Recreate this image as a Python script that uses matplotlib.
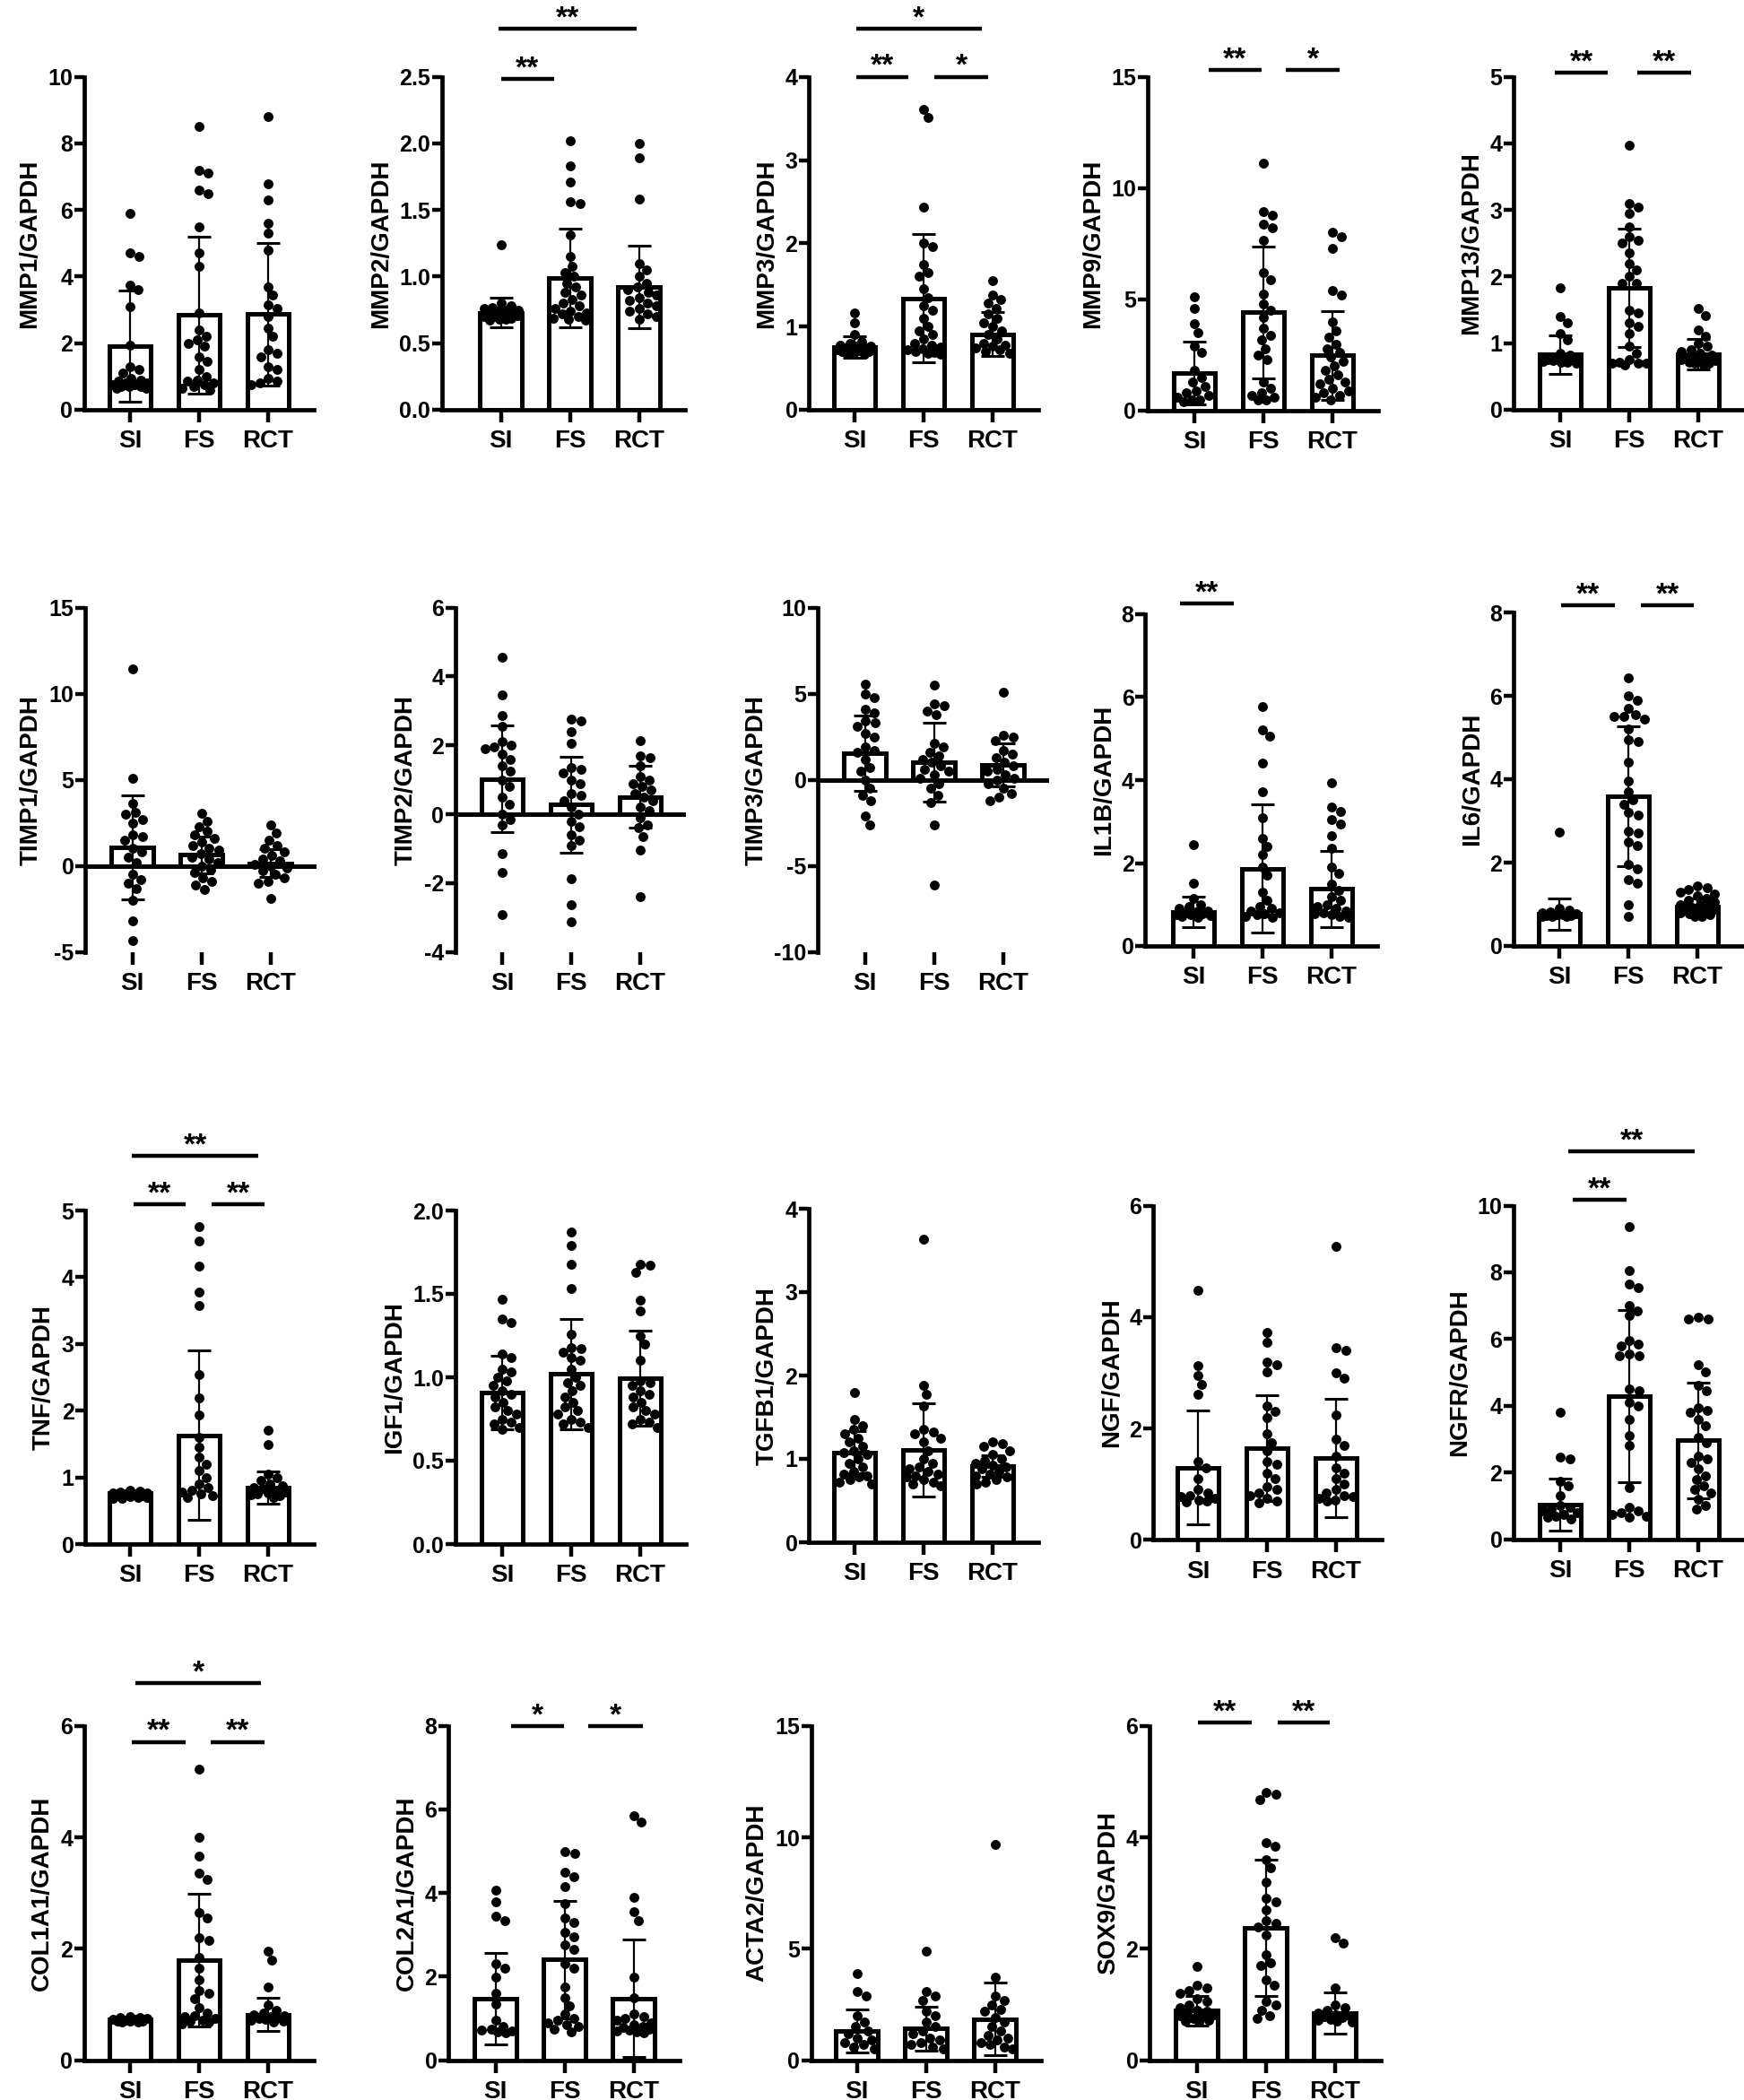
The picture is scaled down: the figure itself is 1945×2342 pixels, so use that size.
# -*- coding: utf-8 -*-
"""
Expresion relativa de genes (x/GAPDH) en tres grupos: SI, FS y RCT.
Barras de media con DE y los puntos individuales de cada muestra.
"""

import numpy as np
import matplotlib
matplotlib.use('Agg')
import matplotlib.pyplot as plt

plt.rcParams['font.family'] = ['Liberation Sans', 'DejaVu Sans']
plt.rcParams['font.weight'] = 'bold'

grupos = ['SI', 'FS', 'RCT']

# ---------------- datos ----------------
mmp1_si = [5.9, 4.7, 4.6, 3.75, 3.6, 3.1, 1.95, 1.3, 1.2, 1.1, 0.95, 0.9, 0.85, 0.8, 0.8, 0.75, 0.75, 0.7, 0.7, 0.7, 0.65, 0.65]
mmp1_fs = [8.5, 7.2, 7.1, 6.6, 6.5, 5.5, 4.7, 4.3, 2.9, 2.4, 2.2, 2.1, 2.0, 1.9, 1.6, 1.45, 1.2, 1.0, 0.9, 0.85, 0.8, 0.75, 0.7, 0.65, 0.6]
mmp1_rct = [8.8, 6.8, 6.3, 5.6, 5.3, 4.8, 3.7, 3.45, 3.15, 3.05, 2.8, 2.45, 2.2, 1.8, 1.7, 1.6, 1.3, 1.2, 0.95, 0.85, 0.8, 0.75]
mmp1_media = [1.90, 2.85, 2.87]
mmp1_de = [1.67, 2.36, 2.14]

mmp2_si = [1.24, 0.8, 0.78, 0.77, 0.76, 0.75, 0.75, 0.74, 0.73, 0.73, 0.72, 0.72, 0.71, 0.70, 0.70, 0.69, 0.68, 0.68, 0.67]
mmp2_fs = [2.02, 1.83, 1.71, 1.56, 1.55, 1.31, 1.15, 1.08, 1.03, 1.0, 0.95, 0.92, 0.88, 0.86, 0.83, 0.80, 0.78, 0.76, 0.74, 0.73, 0.72, 0.70, 0.69, 0.68, 0.67]
mmp2_rct = [2.0, 1.89, 1.58, 1.1, 1.05, 1.0, 0.95, 0.92, 0.9, 0.88, 0.86, 0.84, 0.82, 0.8, 0.78, 0.76, 0.74, 0.72, 0.7, 0.68]
mmp2_media = [0.73, 0.99, 0.92]
mmp2_de = [0.11, 0.37, 0.31]

mmp3_si = [1.16, 1.04, 0.9, 0.82, 0.8, 0.78, 0.77, 0.76, 0.75, 0.74, 0.73, 0.72, 0.71, 0.7, 0.7, 0.69, 0.68, 0.67]
mmp3_fs = [3.61, 3.51, 2.44, 2.0, 1.96, 1.75, 1.65, 1.6, 1.45, 1.35, 1.25, 1.2, 1.1, 1.0, 0.95, 0.9, 0.85, 0.8, 0.78, 0.75, 0.73, 0.72, 0.7, 0.69, 0.68, 0.67]
mmp3_rct = [1.55, 1.38, 1.32, 1.28, 1.22, 1.15, 1.1, 1.05, 1.0, 0.95, 0.9, 0.85, 0.8, 0.78, 0.76, 0.74, 0.72, 0.7, 0.68]
mmp3_media = [0.75, 1.34, 0.91]
mmp3_de = [0.13, 0.77, 0.26]

mmp9_si = [5.1, 4.6, 3.9, 3.5, 2.9, 2.6, 1.8, 1.5, 1.3, 1.1, 0.9, 0.8, 0.7, 0.6, 0.5, 0.5, 0.4]
mmp9_fs = [11.1, 8.95, 8.8, 8.4, 8.2, 7.65, 6.2, 5.9, 5.25, 4.8, 4.5, 4.2, 3.7, 3.4, 3.2, 2.8, 2.5, 2.3, 1.3, 1.0, 0.8, 0.7, 0.6, 0.5, 0.5]
mmp9_rct = [8.0, 7.8, 7.3, 5.4, 5.2, 4.0, 3.6, 3.3, 3.0, 2.8, 2.6, 2.4, 2.2, 2.0, 1.8, 1.6, 1.4, 1.3, 1.2, 1.0, 0.9, 0.8, 0.7, 0.6, 0.5]
mmp9_media = [1.70, 4.43, 2.48]
mmp9_de = [1.40, 2.96, 1.98]

mmp13_si = [1.83, 1.4, 1.3, 1.15, 1.05, 0.85, 0.82, 0.8, 0.8, 0.78, 0.77, 0.76, 0.75, 0.75, 0.74, 0.73, 0.72, 0.72, 0.7]
mmp13_fs = [3.97, 3.1, 3.05, 2.95, 2.75, 2.6, 2.55, 2.5, 2.35, 2.2, 2.1, 2.0, 1.9, 1.9, 1.5, 1.45, 1.3, 1.25, 1.15, 0.95, 0.85, 0.75, 0.72, 0.7, 0.7, 0.7, 0.68]
mmp13_rct = [1.52, 1.42, 1.2, 1.1, 1.0, 0.95, 0.9, 0.88, 0.85, 0.82, 0.8, 0.78, 0.76, 0.75, 0.74, 0.73, 0.72, 0.7, 0.7, 0.68]
mmp13_media = [0.83, 1.83, 0.83]
mmp13_de = [0.29, 0.89, 0.23]

timp1_si = [11.45, 5.07, 3.63, 3.1, 3.0, 2.7, 2.5, 1.8, 1.7, 1.5, 1.0, 0.8, 0.5, 0.2, -0.5, -0.8, -1.0, -1.3, -2.0, -3.18, -4.36]
timp1_fs = [3.07, 2.6, 2.3, 2.0, 1.8, 1.6, 1.4, 1.2, 1.0, 0.9, 0.7, 0.5, 0.4, 0.2, 0.0, -0.2, -0.4, -0.7, -0.9, -1.1, -1.35]
timp1_rct = [2.38, 1.9, 1.5, 1.2, 1.0, 0.8, 0.6, 0.4, 0.3, 0.1, 0.0, -0.1, -0.3, -0.5, -0.7, -0.9, -1.0, -1.87]
timp1_media = [1.08, 0.64, 0.15]
timp1_de = [3.03, 1.05, 0.80]

timp2_si = [4.55, 3.46, 2.86, 2.55, 2.1, 2.0, 1.95, 1.9, 1.75, 1.6, 1.4, 1.25, 1.0, 0.8, 0.5, 0.3, 0.0, -0.15, -0.3, -1.14, -1.7, -2.92]
timp2_fs = [2.75, 2.7, 2.4, 2.05, 1.35, 1.3, 1.2, 1.0, 0.9, 0.6, 0.55, 0.4, 0.2, 0.0, -0.2, -0.35, -0.6, -0.75, -0.9, -1.88, -2.64, -3.13]
timp2_rct = [2.13, 1.7, 1.65, 1.4, 1.1, 1.0, 0.9, 0.8, 0.7, 0.6, 0.5, 0.4, 0.2, 0.1, -0.1, -0.3, -0.4, -0.65, -1.05, -2.4]
timp2_media = [1.03, 0.28, 0.51]
timp2_de = [1.56, 1.40, 0.91]

timp3_si = [5.57, 5.0, 4.8, 4.1, 3.9, 3.4, 3.3, 3.1, 2.7, 2.5, 1.9, 1.7, 1.6, 1.2, 0.7, 0.5, 0.0, -0.5, -0.9, -1.2, -2.1, -2.6]
timp3_fs = [5.5, 4.4, 4.3, 4.0, 3.8, 2.1, 1.9, 1.6, 1.4, 1.2, 1.0, 0.8, 0.6, 0.5, 0.3, 0.1, -0.2, -0.5, -0.9, -1.3, -2.6, -6.09]
timp3_rct = [5.1, 2.6, 2.5, 2.3, 1.7, 1.5, 1.3, 1.0, 0.8, 0.6, 0.5, 0.3, 0.1, 0.0, -0.2, -0.5, -0.8, -1.0, -1.2]
timp3_media = [1.55, 1.02, 0.85]
timp3_de = [2.17, 2.29, 1.25]

il1b_si = [2.45, 1.51, 1.15, 1.0, 0.95, 0.9, 0.85, 0.82, 0.8, 0.78, 0.76, 0.75, 0.74, 0.72, 0.7]
il1b_fs = [5.77, 5.2, 5.05, 4.4, 3.71, 3.1, 2.6, 2.4, 2.2, 1.9, 1.7, 1.3, 1.1, 0.95, 0.9, 0.85, 0.8, 0.78, 0.75, 0.72, 0.7]
il1b_rct = [3.93, 3.35, 3.25, 3.05, 2.95, 2.65, 2.35, 1.9, 1.75, 1.5, 1.35, 1.2, 1.1, 1.0, 0.95, 0.9, 0.85, 0.8, 0.78, 0.75, 0.72, 0.7]
il1b_media = [0.83, 1.87, 1.38]
il1b_de = [0.37, 1.54, 0.92]

il6_si = [2.73, 0.9, 0.85, 0.82, 0.8, 0.78, 0.76, 0.75, 0.74, 0.73, 0.72, 0.7, 0.7]
il6_fs = [6.44, 6.0, 5.9, 5.7, 5.55, 5.5, 5.5, 5.45, 5.2, 4.95, 4.9, 4.4, 3.95, 3.7, 3.5, 3.4, 3.2, 3.15, 2.75, 2.7, 2.5, 2.4, 1.95, 1.85, 1.6, 1.5, 1.0, 0.7]
il6_rct = [1.45, 1.4, 1.35, 1.3, 1.25, 1.2, 1.15, 1.1, 1.05, 1.0, 0.98, 0.95, 0.92, 0.9, 0.88, 0.85, 0.82, 0.8, 0.78, 0.75, 0.72, 0.7]
il6_media = [0.77, 3.59, 0.95]
il6_de = [0.38, 1.68, 0.20]

tnf_si = [0.8, 0.79, 0.78, 0.77, 0.76, 0.75, 0.74, 0.73, 0.72, 0.71, 0.7, 0.7, 0.69, 0.68]
tnf_fs = [4.76, 4.54, 4.16, 3.78, 3.58, 2.54, 2.19, 1.93, 1.6, 1.45, 1.3, 1.2, 1.1, 1.0, 0.9, 0.85, 0.8, 0.78, 0.75, 0.72, 0.7]
tnf_rct = [1.71, 1.49, 1.05, 1.0, 0.95, 0.9, 0.88, 0.85, 0.83, 0.8, 0.78, 0.76, 0.75, 0.74, 0.72, 0.7]
tnf_media = [0.76, 1.63, 0.85]
tnf_de = [0.04, 1.27, 0.24]

igf1_si = [1.47, 1.35, 1.33, 1.14, 1.12, 1.05, 1.03, 1.0, 0.98, 0.95, 0.92, 0.9, 0.88, 0.85, 0.82, 0.8, 0.78, 0.75, 0.73, 0.72, 0.7, 0.69]
igf1_fs = [1.87, 1.79, 1.68, 1.53, 1.26, 1.18, 1.17, 1.15, 1.12, 1.1, 1.05, 1.0, 0.97, 0.95, 0.92, 0.88, 0.85, 0.82, 0.8, 0.78, 0.75, 0.73, 0.72, 0.7]
igf1_rct = [1.68, 1.67, 1.63, 1.46, 1.4, 1.25, 1.2, 1.1, 0.98, 0.97, 0.95, 0.92, 0.9, 0.88, 0.85, 0.82, 0.8, 0.78, 0.75, 0.73, 0.72, 0.7]
igf1_media = [0.91, 1.02, 0.995]
igf1_de = [0.22, 0.33, 0.285]

tgfb1_si = [1.8, 1.47, 1.4, 1.35, 1.3, 1.25, 1.2, 1.15, 1.1, 1.08, 1.05, 1.0, 0.95, 0.9, 0.85, 0.82, 0.8, 0.78, 0.75, 0.72, 0.7]
tgfb1_fs = [3.63, 1.88, 1.77, 1.63, 1.35, 1.32, 1.3, 1.25, 1.2, 1.1, 1.0, 0.95, 0.9, 0.88, 0.85, 0.82, 0.8, 0.78, 0.75, 0.72, 0.7, 0.68]
tgfb1_rct = [1.2, 1.18, 1.15, 1.1, 1.05, 1.0, 0.98, 0.95, 0.92, 0.9, 0.88, 0.85, 0.82, 0.8, 0.78, 0.75, 0.72, 0.7]
tgfb1_media = [1.08, 1.11, 0.91]
tgfb1_de = [0.25, 0.56, 0.13]

ngf_si = [4.48, 3.13, 2.95, 2.79, 2.62, 1.4, 1.3, 1.1, 0.9, 0.85, 0.8, 0.78, 0.75, 0.72, 0.7, 0.68]
ngf_fs = [3.72, 3.55, 3.2, 3.15, 3.02, 2.4, 2.3, 2.2, 1.9, 1.75, 1.6, 1.4, 1.35, 1.2, 1.1, 0.95, 0.9, 0.85, 0.8, 0.75, 0.7, 0.66]
ngf_rct = [5.27, 3.45, 3.4, 3.0, 2.9, 2.25, 1.8, 1.7, 1.5, 1.3, 1.2, 1.1, 1.0, 0.9, 0.85, 0.8, 0.78, 0.75, 0.72, 0.7]
ngf_media = [1.30, 1.64, 1.47]
ngf_de = [1.02, 0.95, 1.07]

ngfr_si = [3.81, 2.45, 2.4, 1.75, 1.6, 1.3, 1.0, 0.95, 0.9, 0.85, 0.8, 0.75, 0.7, 0.65, 0.6]
ngfr_fs = [9.38, 8.06, 7.65, 7.55, 7.0, 6.85, 6.7, 5.97, 5.85, 5.8, 5.55, 5.5, 5.5, 4.5, 4.45, 4.1, 4.0, 3.6, 3.11, 2.8, 1.55, 0.95, 0.85, 0.8, 0.75, 0.7, 0.65]
ngfr_rct = [6.65, 6.6, 6.6, 5.23, 5.02, 4.6, 4.45, 3.95, 3.85, 3.8, 3.6, 3.4, 3.05, 2.9, 2.5, 2.4, 2.3, 2.1, 1.9, 1.8, 1.6, 1.5, 1.4, 1.2, 1.0, 0.9]
ngfr_media = [1.04, 4.28, 2.96]
ngfr_de = [0.77, 2.58, 1.73]

col1a1_si = [0.78, 0.77, 0.76, 0.75, 0.74, 0.73, 0.72, 0.71, 0.7, 0.7, 0.69, 0.68]
col1a1_fs = [5.23, 4.0, 3.66, 3.35, 3.25, 2.65, 2.55, 2.2, 2.15, 1.85, 1.65, 1.45, 1.25, 1.2, 1.1, 0.95, 0.85, 0.8, 0.78, 0.75, 0.72, 0.7, 0.68, 0.65]
col1a1_rct = [1.95, 1.79, 1.31, 1.0, 0.9, 0.85, 0.82, 0.8, 0.78, 0.76, 0.75, 0.74, 0.72, 0.7, 0.68]
col1a1_media = [0.74, 1.79, 0.82]
col1a1_de = [0.03, 1.19, 0.30]

col2a1_si = [4.06, 3.8, 3.45, 3.35, 2.3, 2.2, 1.98, 1.6, 1.35, 0.95, 0.8, 0.75, 0.72, 0.7, 0.68, 0.65]
col2a1_fs = [5.0, 4.95, 4.5, 4.4, 4.15, 3.75, 3.4, 3.3, 3.05, 2.95, 2.75, 2.65, 2.3, 2.2, 1.75, 1.5, 1.3, 1.1, 1.0, 0.95, 0.9, 0.85, 0.8, 0.75, 0.67]
col2a1_rct = [5.85, 5.7, 3.9, 3.55, 3.35, 1.98, 1.5, 1.1, 1.05, 1.0, 0.95, 0.9, 0.85, 0.8, 0.78, 0.75, 0.72, 0.7, 0.68, 0.65]
col2a1_media = [1.48, 2.41, 1.48]
col2a1_de = [1.09, 1.40, 1.40]

acta2_si = [3.87, 3.1, 2.9, 2.0, 1.7, 1.5, 1.3, 1.2, 1.0, 0.9, 0.8, 0.7, 0.6, 0.5]
acta2_fs = [4.88, 3.1, 2.9, 2.7, 2.2, 2.0, 1.7, 1.5, 1.3, 1.2, 1.0, 0.9, 0.8, 0.7, 0.6, 0.5]
acta2_rct = [9.68, 3.71, 2.9, 2.7, 2.5, 2.3, 2.2, 1.9, 1.7, 1.5, 1.3, 1.1, 1.0, 0.9, 0.8, 0.7, 0.6, 0.5]
acta2_media = [1.32, 1.42, 1.85]
acta2_de = [0.96, 1.00, 1.62]

sox9_si = [1.68, 1.35, 1.3, 1.25, 1.2, 1.1, 1.05, 1.0, 0.95, 0.9, 0.88, 0.85, 0.82, 0.8, 0.78, 0.75, 0.72, 0.7, 0.68]
sox9_fs = [4.8, 4.78, 4.67, 3.9, 3.84, 3.6, 3.45, 3.2, 2.9, 2.85, 2.7, 2.5, 2.45, 2.4, 2.25, 1.9, 1.75, 1.7, 1.45, 1.35, 1.05, 1.0, 0.9, 0.8, 0.75]
sox9_rct = [2.2, 2.1, 1.3, 1.0, 0.95, 0.9, 0.85, 0.82, 0.8, 0.78, 0.76, 0.74, 0.72, 0.7, 0.68]
sox9_media = [0.89, 2.38, 0.84]
sox9_de = [0.27, 1.22, 0.37]

# (etiqueta, SI, FS, RCT, media, DE, marcas del eje y, decimales)
paneles = [
    ('MMP1/GAPDH', mmp1_si, mmp1_fs, mmp1_rct, mmp1_media, mmp1_de, [0, 2, 4, 6, 8, 10], 0),
    ('MMP2/GAPDH', mmp2_si, mmp2_fs, mmp2_rct, mmp2_media, mmp2_de, [0, 0.5, 1.0, 1.5, 2.0, 2.5], 1),
    ('MMP3/GAPDH', mmp3_si, mmp3_fs, mmp3_rct, mmp3_media, mmp3_de, [0, 1, 2, 3, 4], 0),
    ('MMP9/GAPDH', mmp9_si, mmp9_fs, mmp9_rct, mmp9_media, mmp9_de, [0, 5, 10, 15], 0),
    ('MMP13/GAPDH', mmp13_si, mmp13_fs, mmp13_rct, mmp13_media, mmp13_de, [0, 1, 2, 3, 4, 5], 0),
    ('TIMP1/GAPDH', timp1_si, timp1_fs, timp1_rct, timp1_media, timp1_de, [-5, 0, 5, 10, 15], 0),
    ('TIMP2/GAPDH', timp2_si, timp2_fs, timp2_rct, timp2_media, timp2_de, [-4, -2, 0, 2, 4, 6], 0),
    ('TIMP3/GAPDH', timp3_si, timp3_fs, timp3_rct, timp3_media, timp3_de, [-10, -5, 0, 5, 10], 0),
    ('IL1B/GAPDH', il1b_si, il1b_fs, il1b_rct, il1b_media, il1b_de, [0, 2, 4, 6, 8], 0),
    ('IL6/GAPDH', il6_si, il6_fs, il6_rct, il6_media, il6_de, [0, 2, 4, 6, 8], 0),
    ('TNF/GAPDH', tnf_si, tnf_fs, tnf_rct, tnf_media, tnf_de, [0, 1, 2, 3, 4, 5], 0),
    ('IGF1/GAPDH', igf1_si, igf1_fs, igf1_rct, igf1_media, igf1_de, [0, 0.5, 1.0, 1.5, 2.0], 1),
    ('TGFB1/GAPDH', tgfb1_si, tgfb1_fs, tgfb1_rct, tgfb1_media, tgfb1_de, [0, 1, 2, 3, 4], 0),
    ('NGF/GAPDH', ngf_si, ngf_fs, ngf_rct, ngf_media, ngf_de, [0, 2, 4, 6], 0),
    ('NGFR/GAPDH', ngfr_si, ngfr_fs, ngfr_rct, ngfr_media, ngfr_de, [0, 2, 4, 6, 8, 10], 0),
    ('COL1A1/GAPDH', col1a1_si, col1a1_fs, col1a1_rct, col1a1_media, col1a1_de, [0, 2, 4, 6], 0),
    ('COL2A1/GAPDH', col2a1_si, col2a1_fs, col2a1_rct, col2a1_media, col2a1_de, [0, 2, 4, 6, 8], 0),
    ('ACTA2/GAPDH', acta2_si, acta2_fs, acta2_rct, acta2_media, acta2_de, [0, 5, 10, 15], 0),
    ('SOX9/GAPDH', sox9_si, sox9_fs, sox9_rct, sox9_media, sox9_de, [0, 2, 4, 6], 0),
]

# comparaciones significativas: (panel, x inicial, x final, altura de la linea, texto)
comparaciones = [
    ('MMP2/GAPDH', 0.0, 0.77, 2.485, '**'),
    ('MMP2/GAPDH', -0.03, 1.97, 2.86, '**'),
    ('MMP3/GAPDH', 0.03, 0.78, 4.0, '**'),
    ('MMP3/GAPDH', 1.16, 1.93, 4.0, '*'),
    ('MMP3/GAPDH', 0.02, 1.84, 4.58, '*'),
    ('MMP9/GAPDH', 0.21, 0.97, 15.31, '**'),
    ('MMP9/GAPDH', 1.33, 2.11, 15.31, '*'),
    ('MMP13/GAPDH', -0.08, 0.69, 5.06, '**'),
    ('MMP13/GAPDH', 1.12, 1.90, 5.06, '**'),
    ('IL1B/GAPDH', -0.20, 0.58, 8.26, '**'),
    ('IL6/GAPDH', 0.03, 0.81, 8.17, '**'),
    ('IL6/GAPDH', 1.18, 1.95, 8.17, '**'),
    ('TNF/GAPDH', 0.05, 0.81, 5.09, '**'),
    ('TNF/GAPDH', 1.18, 1.95, 5.09, '**'),
    ('TNF/GAPDH', 0.03, 1.86, 5.82, '**'),
    ('NGFR/GAPDH', 0.18, 0.96, 10.18, '**'),
    ('NGFR/GAPDH', 0.12, 1.95, 11.63, '**'),
    ('COL1A1/GAPDH', 0.03, 0.80, 5.71, '**'),
    ('COL1A1/GAPDH', 1.17, 1.95, 5.71, '**'),
    ('COL1A1/GAPDH', 0.08, 1.90, 6.76, '*'),
    ('COL2A1/GAPDH', 0.23, 0.99, 7.99, '*'),
    ('COL2A1/GAPDH', 1.35, 2.13, 7.99, '*'),
    ('SOX9/GAPDH', 0.02, 0.80, 6.06, '**'),
    ('SOX9/GAPDH', 1.17, 1.93, 6.06, '**'),
]

# ---------------- disposicion (pixeles de la figura) ----------------
ANCHO, ALTO = 1945, 2342
PASO = 77.0        # pixeles entre centros de barras
MARGEN_DER = 51.0  # pixeles del eje x despues de la ultima barra

# (eje y, centro de SI, borde superior, borde inferior)
posiciones = {
    'MMP1/GAPDH': (93.5, 145, 85.7, 457),
    'MMP2/GAPDH': (492.5, 558.5, 85.7, 457),
    'MMP3/GAPDH': (902, 953, 85.7, 457),
    'MMP9/GAPDH': (1279.5, 1332, 85.7, 458),
    'MMP13/GAPDH': (1688, 1740, 85.7, 457),
    'TIMP1/GAPDH': (95, 147.5, 677.7, 1061.7),
    'TIMP2/GAPDH': (507.5, 560, 677.7, 1061.7),
    'TIMP3/GAPDH': (912, 964.5, 677.7, 1061.7),
    'IL1B/GAPDH': (1277, 1331, 685, 1055),
    'IL6/GAPDH': (1688, 1739, 683, 1055),
    'TNF/GAPDH': (95, 145, 1350, 1722),
    'IGF1/GAPDH': (507.5, 560, 1350, 1722),
    'TGFB1/GAPDH': (902, 953, 1348, 1720),
    'NGF/GAPDH': (1286, 1336, 1344.6, 1717.3),
    'NGFR/GAPDH': (1688, 1740, 1344.6, 1716.6),
    'COL1A1/GAPDH': (93.5, 145, 1924.7, 2297.7),
    'COL2A1/GAPDH': (500, 552.5, 1924.7, 2297.7),
    'ACTA2/GAPDH': (904.5, 955.5, 1924.7, 2297.7),
    'SOX9/GAPDH': (1282, 1334.5, 1924.7, 2297.7),
}


def enjambre(valores: np.ndarray, px_y: float, diametro: float = 10.5, limite: float = 19.0) -> np.ndarray:
    """
    Calcula desplazamientos horizontales (en pixeles) para que los puntos
    de un grupo no se encimen, al estilo de un grafico de dispersion.
    """
    orden = np.argsort(valores)[::-1]
    candidatos = [0.0]
    for k in np.arange(1.0, limite + 0.1, 1.0):
        candidatos += [k, -k]
    colocados = []
    desplaz = np.zeros(len(valores))
    for i in orden:
        y = valores[i] * px_y
        mejor, mejor_dist = 0.0, -1.0
        for c in candidatos:
            d = min([np.hypot(c - cx, y - cy) for cx, cy in colocados], default=np.inf)
            if d >= diametro:
                mejor = c
                break
            if d > mejor_dist:
                mejor, mejor_dist = c, d
        desplaz[i] = mejor
        colocados.append((mejor, y))
    return desplaz


fig = plt.figure(figsize=(ANCHO / 100, ALTO / 100), dpi=100)
ejes = {}

for nombre, si, fs, rct, media, de, marcas, dec in paneles:
    axl, xsi, arriba, abajo = posiciones[nombre]
    xmin = -(xsi - axl) / PASO
    xmax = 2 + MARGEN_DER / PASO
    ancho_px = (xmax - xmin) * PASO
    ax = fig.add_axes([axl / ANCHO, 1 - abajo / ALTO, ancho_px / ANCHO, (abajo - arriba) / ALTO])
    ejes[nombre] = ax

    ymin, ymax = marcas[0], marcas[-1]
    ax.set_xlim(xmin, xmax)
    ax.set_ylim(ymin, ymax)
    px_y = (abajo - arriba) / (ymax - ymin)

    for i, (valores, m, s) in enumerate(zip([si, fs, rct], media, de)):
        ax.bar(i, m, width=0.6, color='white', edgecolor='black', linewidth=3.6, zorder=2)
        v = np.array(valores, dtype=float)
        dx = enjambre(v, px_y) / PASO
        ax.scatter(i + dx, v, s=62, color='black', linewidths=0, zorder=3)
        ax.errorbar(i, m, yerr=s, color='black', capsize=9.5, elinewidth=1.6,
                    capthick=2.2, zorder=4)

    # ejes al estilo GraphPad
    ax.spines[['top', 'right']].set_visible(False)
    ax.spines['left'].set_linewidth(3.4)
    ax.spines['bottom'].set_linewidth(3.4)
    if ymin < 0:
        ax.spines['bottom'].set_visible(False)
        ax.axhline(0, color='black', linewidth=3.6, zorder=2.5)

    ax.set_xticks([0, 1, 2])
    ax.set_xticklabels(grupos, fontsize=20, fontweight='bold')
    ax.set_yticks(marcas)
    if dec:
        ax.set_yticklabels([f'{t:.1f}' for t in marcas], fontsize=18, fontweight='bold')
    else:
        ax.set_yticklabels([f'{t:g}' for t in marcas], fontsize=18, fontweight='bold')
    ax.tick_params(axis='y', length=8, width=3.2, pad=1)
    ax.tick_params(axis='x', length=10, width=3.2, pad=6)
    ax.set_ylabel(nombre, fontsize=20, fontweight='bold', labelpad=5)

# lineas de significancia
for nombre, x0, x1, y, texto in comparaciones:
    ax = ejes[nombre]
    ax.plot([x0, x1], [y, y], color='black', linewidth=3.2, clip_on=False,
            solid_capstyle='butt')
    ax.annotate(texto, xy=((x0 + x1) / 2, y), xytext=(0, 2), textcoords='offset points',
                ha='center', va='baseline', fontsize=24, fontweight='bold',
                annotation_clip=False)

fig.savefig('out.png', dpi=100)
